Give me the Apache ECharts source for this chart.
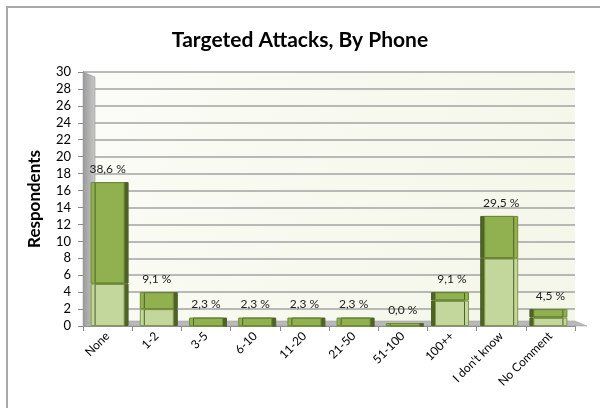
<!DOCTYPE html>
<html><head><meta charset="utf-8">
<script src="https://cdn.jsdelivr.net/npm/echarts@6/dist/echarts.min.js"></script>
<style>html,body{margin:0;padding:0;background:#fff}#c{width:600px;height:408px}</style>
</head><body><div id="c"></div>
<script>
const categories = ['None','1-2','3-5','6-10','11-20','21-50','51-100','100++',"I don't know",'No Comment'];
const lowerValues = [5,2,0,0,0,0,0,3,8,1];
const upperValues = [12,2,1,1,1,1,0,1,5,1];
const yTicks = [0,2,4,6,8,10,12,14,16,18,20,22,24,26,28,30];
const title = 'Targeted Attacks, By Phone';
const yName = 'Respondents';

const totals = categories.map((c,i)=>lowerValues[i]+upperValues[i]);
const grand = totals.reduce((a,b)=>a+b,0);
const font = 'Lato, "Open Sans", sans-serif';
const sideShift = i => (i >= 7 ? -4 : 4);

const chart = echarts.init(document.getElementById('c'));
const option = {
  animation:false,
  title:{text:title,left:'center',top:25,textStyle:{fontFamily:font,fontWeight:'bold',fontSize:21,color:'#000'}},
  grid:{left:83,right:25,top:72,bottom:82,show:true,borderWidth:0,
    backgroundColor:{type:'linear',x:0,y:0,x2:1,y2:1,colorStops:[{offset:0,color:'#fbfcf6'},{offset:1,color:'#f3f6e8'}]}},
  xAxis:{type:'category',data:categories,
    axisLine:{show:true,lineStyle:{color:'#8c8c8c',width:1}},
    axisTick:{show:true,alignWithLabel:false,length:5,lineStyle:{color:'#8c8c8c'}},
    axisLabel:{rotate:45,fontFamily:font,fontSize:12,color:'#000',margin:8,interval:0}},
  yAxis:{type:'value',min:0,max:30,interval:2,
    name:yName,nameLocation:'middle',nameGap:40,nameRotate:90,
    nameTextStyle:{fontFamily:font,fontWeight:'bold',fontSize:17,color:'#000'},
    axisLine:{show:true,lineStyle:{color:'#8c8c8c'}},
    axisTick:{show:true,length:5,lineStyle:{color:'#8c8c8c'}},
    axisLabel:{fontFamily:font,fontSize:13,color:'#000',margin:12,
      formatter:v=>yTicks.indexOf(v)>=0?String(v):''},
    splitLine:{show:true,lineStyle:{color:'#a3a3a3',width:1.5}}},
  series:[
    {name:'lower',type:'bar',stack:'a',barWidth:34,z:3,
     data:lowerValues.map((v,i)=>({value:v,itemStyle:{shadowOffsetX:sideShift(i)}})),
     itemStyle:{color:'#c3d69b',borderColor:'#7f9c45',borderWidth:1,shadowColor:'#4f6228',shadowBlur:0,shadowOffsetX:4}},
    {name:'upper',type:'bar',stack:'a',barWidth:34,barMinHeight:3,z:3,
     data:upperValues.map((v,i)=>({value:v,itemStyle:{shadowOffsetX:sideShift(i)}})),
     itemStyle:{color:'#91b150',borderColor:'#6e8c36',borderWidth:1,shadowColor:'#4f6228',shadowBlur:0,shadowOffsetX:4},
     label:{show:true,position:'top',distance:7,fontFamily:font,fontSize:12,color:'#222',
       formatter:p=>(totals[p.dataIndex]/grand*100).toFixed(1).replace('.',',')+' %'}}
  ]
};
chart.setOption(option);

const p30 = chart.convertToPixel({yAxisIndex:0},30);
const y0 = chart.convertToPixel({yAxisIndex:0},0);
const xL = 83, d = 12, dy = 5, xR = 575;
chart.setOption({graphic:[
  {type:'rect',shape:{x:7,y:7,width:610,height:420},style:{fill:'none',stroke:'#a9a9a9',lineWidth:2},z:0},
  {type:'polygon',z:2,shape:{points:[[xL,p30],[xL+d,p30+dy],[xL+d,y0-dy],[xL,y0]]},
   style:{fill:{type:'linear',x:0,y:0,x2:1,y2:0,colorStops:[{offset:0,color:'#9a9a9a'},{offset:1,color:'#c8c8c8'}]},stroke:'#8c8c8c',lineWidth:0.5}},
  {type:'polygon',z:2,shape:{points:[[xL,y0],[xL+d,y0-dy],[xR,y0-dy],[xR+d,y0]]},
   style:{fill:'#b9b9b9',stroke:'#9a9a9a',lineWidth:0.5}}
]});
</script></body></html>
